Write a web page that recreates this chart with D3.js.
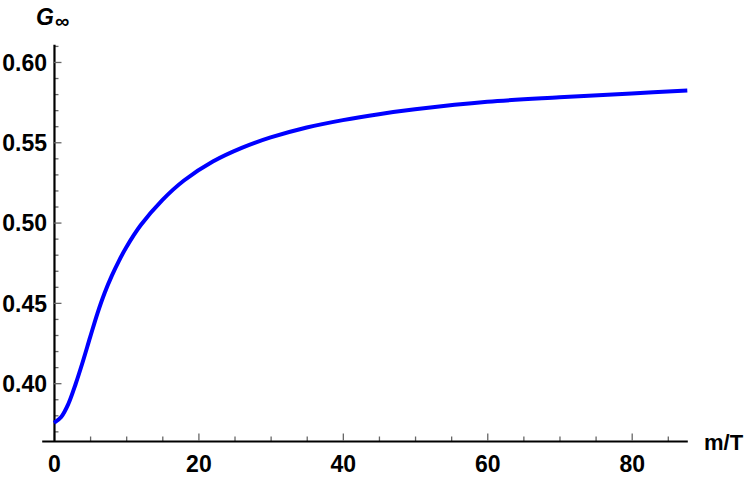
<!DOCTYPE html>
<html>
<head>
<meta charset="utf-8">
<script src="https://cdn.jsdelivr.net/npm/d3@7"></script>
<style>
  html, body { margin: 0; padding: 0; background: #fff; }
  svg { display: block; font-family: "Liberation Sans", Arial, sans-serif; }
</style>
</head>
<body>
<svg id="chart" width="750" height="482"></svg>
<script>
// ---- data ----
const mOverT = [0, 1, 2, 3, 4, 5, 6, 7, 8, 9, 10, 12, 15, 18, 22, 26, 30, 35, 40, 45, 50, 60, 70, 80, 87.7];
const gInf   = [0.3753, 0.3790, 0.3872, 0.3995, 0.4135, 0.4285, 0.4432, 0.4560, 0.4668, 0.4762, 0.4845, 0.4983, 0.5140, 0.5262, 0.5380, 0.5465, 0.5530, 0.5592, 0.5638, 0.5675, 0.5705, 0.5752, 0.5780, 0.5804, 0.5822];
const xMajorTicks = [0, 20, 40, 60, 80];
const xMinorTicks = [5, 10, 15, 25, 30, 35, 45, 50, 55, 65, 70, 75, 85];
const yMajorTicks = [0.40, 0.45, 0.50, 0.55, 0.60];
const yMinorTicks = [0.37, 0.38, 0.39, 0.41, 0.42, 0.43, 0.44, 0.46, 0.47, 0.48, 0.49, 0.51, 0.52, 0.53, 0.54, 0.56, 0.57, 0.58, 0.59, 0.61];
const xLabel = "m/T";
const yLabelMain = "G";
const yLabelSub = "\u221E";

// ---- layout ----
const svg = d3.select("#chart");
const x = d3.scaleLinear().domain([-1.7, 87.7]).range([41.7, 687.3]);
const y = d3.scaleLinear().domain([0.364, 0.611]).range([441, 44.3]);
const x0 = x(0), yBase = y(0.364);

const tickColor = "#666";
const fontFam = "'Liberation Sans', Arial, sans-serif";

// x axis minor ticks
const xMinor = svg.append("g").attr("transform", `translate(0,${yBase})`)
  .call(d3.axisBottom(x).tickValues(xMinorTicks).tickSize(-4.5).tickSizeOuter(0).tickFormat(""));
xMinor.select(".domain").remove();
xMinor.selectAll(".tick line").attr("stroke", tickColor).attr("stroke-width", 1.3);

// x axis major
const xAx = svg.append("g").attr("transform", `translate(0,${yBase})`)
  .call(d3.axisBottom(x).tickValues(xMajorTicks).tickSize(-7.5).tickSizeOuter(0).tickFormat(d3.format("d")));
xAx.select(".domain").attr("stroke", "#000").attr("stroke-width", 2.2);
xAx.selectAll(".tick line").attr("stroke", tickColor).attr("stroke-width", 1.3);
xAx.selectAll(".tick text")
  .attr("y", 30.5).attr("dy", null)
  .attr("fill", "#000").attr("font-size", 23).attr("font-weight", "bold")
  .attr("font-family", fontFam);

// y axis minor ticks
const yMinor = svg.append("g").attr("transform", `translate(${x0},0)`)
  .call(d3.axisLeft(y).tickValues(yMinorTicks).tickSize(-4.5).tickSizeOuter(0).tickFormat(""));
yMinor.select(".domain").remove();
yMinor.selectAll(".tick line").attr("stroke", tickColor).attr("stroke-width", 1.3);

// y axis major
const yAx = svg.append("g").attr("transform", `translate(${x0},0)`)
  .call(d3.axisLeft(y).tickValues(yMajorTicks).tickSize(-7.5).tickSizeOuter(0).tickFormat(d3.format(".2f")));
yAx.select(".domain").attr("stroke", "#000").attr("stroke-width", 2.2);
yAx.selectAll(".tick line").attr("stroke", tickColor).attr("stroke-width", 1.3);
yAx.selectAll(".tick text")
  .attr("x", -7).attr("dy", "0.36em")
  .attr("fill", "#000").attr("font-size", 23).attr("font-weight", "bold")
  .attr("font-family", fontFam);

// curve
const line = d3.line()
  .x((d, i) => x(mOverT[i]))
  .y(d => y(d))
  .curve(d3.curveCatmullRom.alpha(0.5));
svg.append("path")
  .datum(gInf)
  .attr("d", line)
  .attr("fill", "none")
  .attr("stroke", "#0000ff")
  .attr("stroke-width", 4);

// axis labels
svg.append("text")
  .attr("x", 704).attr("y", 450)
  .attr("font-size", 22).attr("font-weight", "bold").attr("fill", "#000")
  .text(xLabel);

const yl = svg.append("text")
  .attr("x", 36).attr("y", 25)
  .attr("font-weight", "bold").attr("fill", "#000");
yl.append("tspan").attr("font-size", 23).attr("font-style", "italic").text(yLabelMain);
yl.append("tspan").attr("font-size", 20).attr("dx", 1).attr("dy", 3).text(yLabelSub);
</script>
</body>
</html>
